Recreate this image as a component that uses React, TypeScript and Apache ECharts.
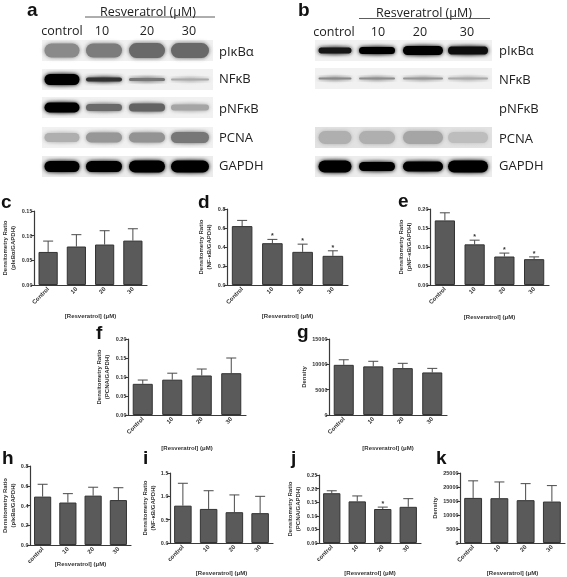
import React, { useEffect, useRef } from "react";
import * as echarts from "echarts";

const catsUpper = ["Control", "10", "20", "30"];
const catsLower = ["control", "10", "20", "30"];
const xTitle = "[Resveratrol] (μM)";

const cMeans = [0.067, 0.078, 0.082, 0.09];
const cTops = [0.089, 0.102, 0.11, 0.114];
const dMeans = [0.62, 0.44, 0.349, 0.307];
const dTops = [0.68, 0.48, 0.43, 0.36];
const eMeans = [0.17, 0.107, 0.075, 0.068];
const eTops = [0.19, 0.118, 0.084, 0.074];
const fMeans = [0.082, 0.093, 0.104, 0.11];
const fTops = [0.092, 0.11, 0.121, 0.15];
const gMeans = [9900, 9600, 9250, 8400];
const gTops = [10900, 10600, 10200, 9200];
const hMeans = [0.49, 0.43, 0.5, 0.455];
const hTops = [0.615, 0.52, 0.585, 0.58];
const iMeans = [0.8, 0.73, 0.66, 0.64];
const iTops = [1.28, 1.12, 1.03, 1.0];
const jMeans = [0.183, 0.153, 0.125, 0.133];
const jTops = [0.192, 0.173, 0.132, 0.163];
const kMeans = [16100, 16000, 15300, 14800];
const kTops = [22200, 21800, 21200, 20500];

const rowLabels = ["pIκBα", "NFκB", "pNFκB", "PCNA", "GAPDH"];
const laneLabels = ["control", "10", "20", "30"];
// band darkness per lane, one row per protein
const blotA = [
  [0.42, 0.48, 0.56, 0.56],
  [1, 0.8, 0.5, 0.28],
  [1, 0.55, 0.58, 0.3],
  [0.26, 0.36, 0.38, 0.5],
  [1, 1, 1, 1],
];
const blotB = [
  [0.92, 1, 1, 0.95],
  [0.42, 0.4, 0.36, 0.28],
  [0, 0, 0, 0],
  [0.26, 0.26, 0.3, 0.2],
  [1, 1, 1, 1],
];

type Panel = {
  letter: string; lx: number; ly: number;
  left: number; right: number; top: number; bottom: number;
  cats: string[]; means: number[]; tops: number[]; stars: number[];
  max: number; step: number; dec: number; yName: string; nameGapY: number;
  titleGap: number;
};

const panels: Panel[] = [
  { letter: "c", lx: 1, ly: 208, left: 31, right: 147, top: 211, bottom: 285, cats: catsUpper, means: cMeans, tops: cTops, stars: [], max: 0.15, step: 0.05, dec: 2, yName: "Densitometry Ratio\n(pIκBα/GAPDH)", nameGapY: 17, titleGap: 28 },
  { letter: "d", lx: 198, ly: 208, left: 227, right: 348, top: 209, bottom: 285, cats: catsUpper, means: dMeans, tops: dTops, stars: [1, 2, 3], max: 0.8, step: 0.2, dec: 1, yName: "Densitometry Ratio\n(NF-κB/GAPDH)", nameGapY: 14, titleGap: 28 },
  { letter: "e", lx: 398, ly: 207, left: 430, right: 549, top: 209, bottom: 285, cats: catsUpper, means: eMeans, tops: eTops, stars: [1, 2, 3], max: 0.2, step: 0.05, dec: 2, yName: "Densitometry Ratio\n(pNF-κB/GAPDH)", nameGapY: 17, titleGap: 29 },
  { letter: "f", lx: 96, ly: 339, left: 128, right: 246, top: 339, bottom: 415, cats: catsUpper, means: fMeans, tops: fTops, stars: [], max: 0.2, step: 0.05, dec: 2, yName: "Densitometry Ratio\n(PCNA/GAPDH)", nameGapY: 17, titleGap: 30 },
  { letter: "g", lx: 297, ly: 338, left: 329, right: 447, top: 339, bottom: 415, cats: catsUpper, means: gMeans, tops: gTops, stars: [], max: 15000, step: 5000, dec: 0, yName: "Density", nameGapY: 21, titleGap: 30 },
  { letter: "h", lx: 2, ly: 464, left: 28, right: 131, top: 466, bottom: 545, cats: catsLower, means: hMeans, tops: hTops, stars: [], max: 0.8, step: 0.2, dec: 1, yName: "Densitometry Ratio\n(pIκBα/GAPDH)", nameGapY: 13, titleGap: 16 },
  { letter: "i", lx: 143, ly: 464, left: 170, right: 273, top: 473, bottom: 545, cats: catsLower, means: iMeans, tops: iTops, stars: [], max: 1.5, step: 0.5, dec: 1, yName: "Densitometry Ratio\n(NF-κB/GAPDH)", nameGapY: 13, titleGap: 27 },
  { letter: "j", lx: 291, ly: 464, left: 319, right: 421, top: 475, bottom: 545, cats: catsLower, means: jMeans, tops: jTops, stars: [2], max: 0.25, step: 0.05, dec: 2, yName: "Densitometry Ratio\n(PCNA/GAPDH)", nameGapY: 17, titleGap: 27 },
  { letter: "k", lx: 436, ly: 464, left: 460, right: 565, top: 473, bottom: 545, cats: catsUpper, means: kMeans, tops: kTops, stars: [], max: 25000, step: 5000, dec: 0, yName: "Density", nameGapY: 21, titleGap: 27 },
];

const SANS = "'Liberation Sans', Arial, sans-serif";
const BLOT_FONT = "'Open Sans', 'Noto Sans', sans-serif";
const AXIS = "#3a3a3a";

function gray(d: number) {
  const v = Math.round(235 - 232 * d);
  return `rgb(${v},${v},${v})`;
}

function blotElements(
  rows: number[][],
  bgX: number, bgW: number,
  laneX: number[], laneW: number[],
  rowTop: number[], rowBgTop: number,
  labelX: number, labelY: number[],
  bandH: number[][],
) {
  const out: any[] = [];
  rows.forEach((row, r) => {
    const empty = row.every((d) => d === 0);
    if (!empty) {
      out.push({
        type: "rect",
        shape: { x: bgX, y: rowTop[r], width: bgW, height: 21 },
        style: { fill: r === 4 ? "#ececec" : rowBgTop === 1 && r === 3 ? "#e2e2e2" : "#f1f1f1" },
      });
      row.forEach((d, l) => {
        const h = bandH[r][l];
        const cy = rowTop[r] + 10.5;
        out.push({
          type: "ellipse",
          shape: { cx: laneX[l], cy, rx: laneW[l] / 2 + 3, ry: Math.min(10.5, h / 2 + 5) },
          style: {
            fill: new echarts.graphic.RadialGradient(0.5, 0.5, 0.5, [
              { offset: 0, color: gray(d * 0.75) },
              { offset: 1, color: "rgba(235,235,235,0)" },
            ]),
          },
        });
        out.push({
          type: "rect",
          shape: { x: laneX[l] - laneW[l] / 2, y: cy - h / 2, width: laneW[l], height: h, r: h / 2 },
          style: { fill: gray(d), shadowBlur: 4, shadowColor: gray(d) },
        });
      });
    }
    out.push({
      type: "text",
      style: { text: rowLabels[r], x: labelX, y: labelY[r], fill: "#222", font: `13px ${BLOT_FONT}`, verticalAlign: "middle", textAlign: "left" },
    });
  });
  return out;
}

function headerElements(cx: number, cy: number, x1: number, x2: number, lineY: number, laneCx: number[], laneY: number) {
  const out: any[] = [
    { type: "text", style: { text: "Resveratrol (μM)", x: cx, y: cy, fill: "#222", font: `12.5px ${BLOT_FONT}`, textAlign: "center", verticalAlign: "middle" } },
    { type: "line", shape: { x1, y1: lineY, x2, y2: lineY }, style: { stroke: "#333", lineWidth: 0.8 } },
  ];
  laneLabels.forEach((t, i) => {
    out.push({ type: "text", style: { text: t, x: laneCx[i], y: laneY, fill: "#222", font: `12.5px ${BLOT_FONT}`, textAlign: "center", verticalAlign: "middle" } });
  });
  return out;
}

function buildOption() {
  const grid: any[] = [], xAxis: any[] = [], yAxis: any[] = [], series: any[] = [];
  panels.forEach((p, i) => {
    grid.push({ left: p.left, top: p.top, width: p.right - p.left, height: p.bottom - p.top });
    xAxis.push({
      type: "category", gridIndex: i, data: p.cats,
      name: xTitle, nameLocation: "middle", nameGap: p.titleGap, nameMoveOverlap: false,
      nameTextStyle: { fontFamily: SANS, fontSize: 6, fontWeight: "bold", color: "#333" },
      axisLine: { lineStyle: { color: AXIS, width: 1.2 } },
      axisTick: { length: 3, lineStyle: { color: AXIS, width: 1 }, alignWithLabel: true },
      axisLabel: { rotate: 45, margin: 3, interval: 0, fontFamily: SANS, fontSize: 6, fontWeight: "bold", color: "#333" },
    });
    yAxis.push({
      type: "value", gridIndex: i, min: 0, max: p.max, interval: p.step,
      name: p.yName, nameLocation: "middle", nameGap: p.nameGapY, nameMoveOverlap: false,
      nameTextStyle: { fontFamily: SANS, fontSize: 6, fontWeight: "bold", color: "#333", lineHeight: 8 },
      axisLine: { show: true, lineStyle: { color: AXIS, width: 1.2 } },
      axisTick: { show: true, length: 3, lineStyle: { color: AXIS, width: 1 } },
      splitLine: { show: false },
      axisLabel: { margin: 1.5, fontFamily: SANS, fontSize: 5.5, fontWeight: "bold", color: "#333", formatter: (v: number) => v.toFixed(p.dec) },
    });
    series.push({
      type: "bar", xAxisIndex: i, yAxisIndex: i, data: p.means, barWidth: "68%",
      itemStyle: { color: "#5a5a5a", borderColor: "#333", borderWidth: 1 },
      silent: true,
    });
    series.push({
      type: "custom", xAxisIndex: i, yAxisIndex: i, silent: true, z: 1,
      encode: { x: 0, y: 1 },
      data: p.tops.map((t, k) => [k, t, p.means[k], p.stars.includes(k) ? 1 : 0]),
      renderItem: (_: any, api: any) => {
        const k = api.value(0), t = api.value(1), m = api.value(2), s = api.value(3);
        const a = api.coord([k, t]), b = api.coord([k, m]);
        const children: any[] = [
          { type: "line", shape: { x1: a[0], y1: a[1], x2: b[0], y2: b[1] }, style: { stroke: "#4a4a4a", lineWidth: 1 } },
          { type: "line", shape: { x1: a[0] - 5, y1: a[1], x2: a[0] + 5, y2: a[1] }, style: { stroke: "#4a4a4a", lineWidth: 1 } },
        ];
        if (s) children.push({ type: "text", style: { text: "*", x: a[0], y: a[1] - 7, fill: "#333", font: `bold 7px ${SANS}`, textAlign: "center", textVerticalAlign: "top" } });
        return { type: "group", children };
      },
    });
  });

  const letters: any[] = [
    { t: "a", x: 27, y: 16 }, { t: "b", x: 298, y: 16 },
    ...panels.map((p) => ({ t: p.letter, x: p.lx, y: p.ly })),
  ].map((l) => ({
    type: "text",
    style: { text: l.t, x: l.x, y: l.y + 3, fill: "#111", font: `bold 19px ${SANS}`, textAlign: "left", verticalAlign: "bottom" },
  }));

  const rowsTop = [40, 69, 97, 127, 156];
  const rowsTopB = [40, 68, 97, 127, 156];
  const graphicEls = [
    ...letters,
    ...headerElements(148, 11, 85, 215, 17, [62, 102, 147, 189], 30),
    ...headerElements(424, 12, 359, 490, 18.5, [334, 378, 420, 467], 31),
    ...blotElements(blotA, 42, 171, [62, 104, 147, 190], [35, 36, 36, 38], rowsTop, 0, 219, [51, 78, 108, 137, 165], [
      [14, 14, 15, 15], [11, 4, 3, 2], [10, 7, 8, 6], [9, 10, 10, 11], [11, 11, 12, 12],
    ]),
    ...blotElements(blotB, 315, 177, [335, 377, 423, 468], [33, 36, 40, 40], rowsTopB, 1, 499, [50, 79, 108, 138, 165], [
      [6, 7, 9, 8], [2, 2, 2, 2], [1, 1, 1, 1], [13, 13, 13, 11], [12, 9, 10, 12],
    ]),
  ];

  return {
    animation: false,
    backgroundColor: "#ffffff",
    grid, xAxis, yAxis, series,
    graphic: { elements: graphicEls },
  };
}

export default function App() {
  const ref = useRef<HTMLDivElement>(null);
  useEffect(() => {
    document.body.style.margin = "0";
    const chart = echarts.init(ref.current!, undefined, { renderer: "svg" });
    chart.setOption(buildOption());
    return () => chart.dispose();
  }, []);
  return <div ref={ref} style={{ width: 567, height: 577, filter: "blur(0.35px)" }} />;
}
